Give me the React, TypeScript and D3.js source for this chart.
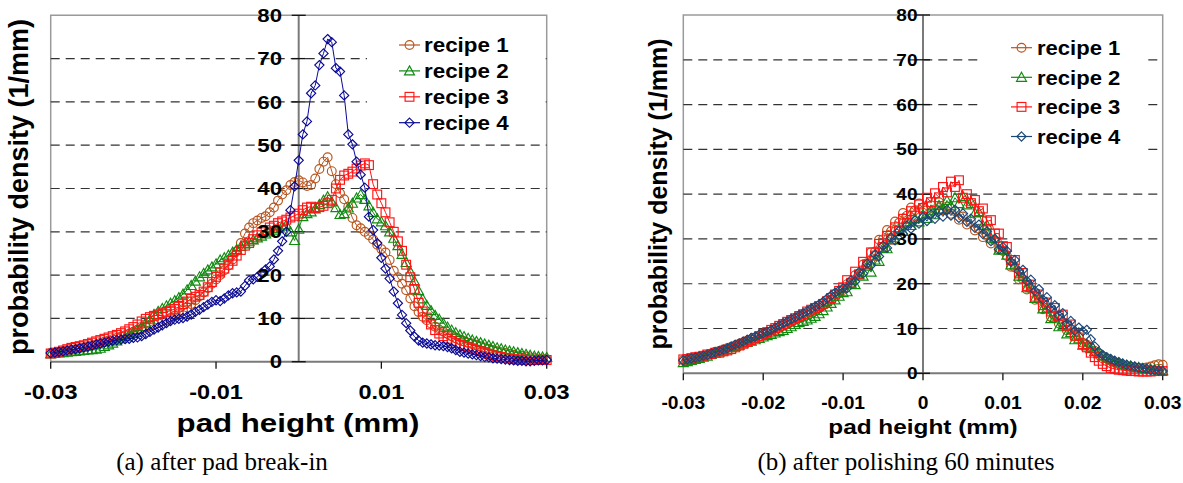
import React from "react";
import * as d3 from "d3";

// ---------------- data ----------------
const seriesNames = ["recipe 1", "recipe 2", "recipe 3", "recipe 4"];
const xDomain = [-0.03, 0.03];
const yDomain = [0, 80];
const yTickValues = [0, 10, 20, 30, 40, 50, 60, 70, 80];
const yTickLabels = ["0", "10", "20", "30", "40", "50", "60", "70", "80"];
const xTickValuesA = [-0.03, -0.01, 0.01, 0.03];
const xTickLabelsA = ["-0.03", "-0.01", "0.01", "0.03"];
const xTickValuesB = [-0.03, -0.02, -0.01, 0, 0.01, 0.02, 0.03];
const xTickLabelsB = ["-0.03", "-0.02", "-0.01", "0", "0.01", "0.02", "0.03"];
const axisTitleX = "pad height (mm)";
const axisTitleY = "probability density (1/mm)";
const captionA = "(a) after pad break-in";
const captionB = "(b) after polishing 60 minutes";

// (a) after pad break-in: samples every 0.0005 mm from -0.03 to 0.03
const recipe1A = [
  2.0, 2.1, 2.2, 2.4, 2.5, 2.7, 2.9, 3.1, 3.3, 3.5, 3.8, 4.0, 4.3, 4.6, 4.9, 5.2, 5.5, 5.8, 6.1, 6.5, 6.9,
  7.3, 7.6, 8.0, 8.3, 8.6, 8.9, 9.3, 9.6, 10.1, 10.6, 11.2, 11.8, 12.5, 13.3, 14.2, 15.1, 16.0, 17.0, 18.0, 19.0,
  20.0, 21.1, 22.2, 23.6, 25.5, 27.4, 29.6, 31.0, 32.0, 32.6, 33.2, 33.6, 34.5, 35.6, 37.2, 38.6, 39.6, 40.8, 41.5, 41.9,
  41.4, 40.6, 40.8, 42.3, 44.5, 46.2, 47.2, 44.0, 41.0, 38.9, 37.5, 35.8, 33.2, 31.5, 30.8, 30.0, 29.2, 28.2, 27.0, 26.0,
  25.2, 23.5, 21.0, 19.5, 18.0, 16.5, 14.6, 12.8, 11.5, 10.4, 9.6, 8.8, 8.1, 7.4, 6.9, 6.4, 5.9, 5.4, 5.0, 4.7,
  4.4, 4.2, 3.9, 3.6, 3.3, 3.0, 2.7, 2.4, 2.2, 2.0, 1.8, 1.6, 1.4, 1.3, 1.2, 1.0, 0.8, 0.7, 0.6, 0.5,
];
const recipe2A = [
  1.8, 1.9, 2.0, 2.1, 2.2, 2.3, 2.4, 2.5, 2.6, 2.7, 2.8, 2.9, 3.1, 3.5, 3.9, 4.3, 4.8, 5.3, 5.8, 6.3, 6.8,
  7.4, 8.1, 8.9, 9.8, 10.9, 11.6, 12.3, 12.9, 13.5, 14.1, 14.8, 15.6, 16.6, 17.6, 18.6, 19.6, 20.4, 21.2, 21.9, 22.6,
  23.5, 24.0, 24.6, 25.3, 25.9, 26.6, 27.2, 27.7, 28.1, 28.6, 29.0, 29.5, 30.0, 30.4, 30.8, 31.3, 31.6, 30.0, 28.0, 30.6,
  33.5, 34.2, 34.6, 35.3, 36.3, 37.3, 38.1, 36.9, 35.6, 34.0, 34.2, 35.5, 36.6, 37.8, 38.6, 37.5, 36.0, 34.5, 33.0, 32.3,
  31.4, 30.0, 28.5, 26.8, 24.8, 22.9, 20.8, 18.6, 16.4, 14.5, 13.0, 11.8, 10.7, 9.8, 8.9, 8.0, 7.3, 6.7, 6.2, 5.8,
  5.4, 5.0, 4.7, 4.4, 4.1, 3.8, 3.5, 3.2, 3.0, 2.7, 2.5, 2.3, 2.1, 1.9, 1.7, 1.5, 1.3, 1.2, 1.1, 1.0,
];
const recipe3A = [
  1.9, 2.1, 2.3, 2.6, 2.9, 3.2, 3.4, 3.6, 3.8, 4.1, 4.4, 4.7, 5.0, 5.3, 5.6, 5.9, 6.2, 6.6, 7.0, 7.5, 8.0,
  8.6, 9.3, 9.9, 10.3, 10.6, 10.9, 11.2, 11.5, 11.8, 12.2, 12.7, 13.3, 13.9, 14.5, 15.0, 15.4, 16.2, 17.2, 18.4, 19.6,
  20.6, 21.5, 22.4, 23.3, 24.5, 25.8, 26.8, 27.4, 28.3, 29.2, 29.9, 30.4, 31.0, 31.4, 32.0, 32.4, 32.8, 33.3, 33.7, 34.2,
  35.0, 35.6, 35.8, 35.5, 35.7, 36.0, 36.6, 37.4, 40.0, 42.0, 43.0, 43.4, 43.9, 44.6, 45.3, 45.8, 45.4, 41.0, 38.6, 36.6,
  34.5, 32.2, 30.0, 27.8, 25.6, 22.4, 19.5, 16.8, 13.6, 11.6, 10.2, 8.6, 7.3, 6.5, 5.9, 5.3, 4.8, 4.3, 3.9, 3.6,
  3.3, 3.0, 2.7, 2.4, 2.1, 1.8, 1.5, 1.3, 1.1, 0.9, 0.8, 0.6, 0.5, 0.5, 0.4, 0.4, 0.4, 0.4, 0.4, 0.4,
];
const recipe4A = [
  2.0, 2.1, 2.3, 2.4, 2.6, 2.8, 2.9, 3.1, 3.3, 3.5, 3.7, 4.0, 4.2, 4.4, 4.6, 4.8, 5.0, 5.1, 5.2, 5.3, 5.5,
  5.6, 5.9, 6.4, 6.9, 7.4, 7.9, 8.4, 8.9, 9.4, 9.7, 9.9, 10.1, 10.4, 10.9, 11.5, 12.0, 12.6, 13.2, 13.8, 14.2,
  14.0, 14.6, 15.3, 15.8, 16.0, 16.2, 17.5, 18.8, 19.0, 19.6, 20.5, 21.3, 22.0, 23.6, 25.6, 27.8, 30.0, 35.0, 40.5, 46.5,
  52.5, 55.5, 62.0, 63.8, 68.5, 71.2, 74.5, 73.8, 67.8, 67.0, 61.5, 52.5, 50.2, 46.2, 43.2, 40.2, 33.5, 30.4, 27.4, 24.0,
  21.5, 19.2, 16.2, 13.5, 10.8, 8.9, 7.2, 5.8, 4.9, 4.4, 4.2, 4.0, 3.8, 3.7, 3.6, 3.4, 3.1, 2.7, 2.3, 2.1,
  1.9, 1.7, 1.5, 1.3, 1.1, 1.0, 0.8, 0.7, 0.6, 0.5, 0.4, 0.3, 0.2, 0.2, 0.1, 0.1, 0.2, 0.3, 0.3, 0.4,
];

// (b) after polishing 60 minutes
const recipe1B = [
  2.9, 3.0, 3.3, 3.4, 3.6, 3.9, 4.1, 4.4, 4.8, 5.0, 5.3, 5.6, 5.9, 6.2, 6.6, 6.9, 7.3, 7.6, 7.9, 8.3, 8.6,
  8.9, 9.3, 9.6, 10.1, 10.6, 11.0, 11.5, 12.1, 12.4, 12.8, 13.2, 13.7, 14.2, 14.6, 15.2, 15.8, 16.4, 17.1, 17.8, 18.6,
  19.9, 20.1, 21.9, 22.2, 24.3, 24.6, 27.0, 27.2, 29.8, 29.9, 32.0, 31.7, 33.9, 33.6, 35.8, 35.2, 37.0, 36.4, 37.9, 37.0,
  36.4, 37.5, 36.6, 38.2, 36.4, 37.2, 35.6, 36.2, 34.3, 35.0, 33.2, 33.8, 31.9, 32.3, 30.4, 31.0, 29.0, 29.6, 27.6, 27.3,
  26.2, 23.8, 23.6, 21.0, 21.0, 18.7, 18.9, 16.4, 16.4, 14.3, 14.6, 12.6, 12.9, 11.1, 11.4, 9.6, 9.9, 8.2, 8.2, 6.8,
  6.4, 5.7, 5.0, 4.4, 3.8, 3.3, 2.8, 2.4, 2.1, 1.8, 1.6, 1.4, 1.3, 1.2, 1.2, 1.3, 1.5, 1.8, 2.0, 1.9,
];
const recipe2B = [
  2.4, 2.6, 2.9, 3.1, 3.3, 3.6, 3.8, 4.2, 4.5, 4.8, 5.0, 5.3, 5.7, 6.0, 6.3, 6.6, 6.9, 7.2, 7.5, 7.8, 8.1,
  8.4, 8.7, 9.0, 9.3, 9.6, 10.0, 10.4, 10.9, 11.3, 11.6, 11.9, 12.3, 12.7, 13.3, 14.0, 14.8, 15.6, 16.4, 17.2, 18.0,
  18.2, 20.1, 19.8, 22.0, 21.7, 23.9, 22.6, 25.3, 25.0, 27.9, 27.8, 30.3, 29.8, 32.2, 31.7, 33.8, 33.0, 34.6, 33.8, 35.4,
  34.6, 36.4, 35.4, 37.5, 36.6, 38.6, 37.4, 39.2, 37.9, 39.5, 37.6, 38.3, 35.8, 35.9, 33.0, 33.1, 30.2, 30.1, 27.5, 27.6,
  26.4, 24.2, 24.2, 21.7, 21.6, 19.1, 19.1, 16.7, 16.8, 14.4, 14.5, 12.2, 12.4, 10.4, 10.6, 8.8, 9.1, 7.5, 7.7, 6.3,
  6.1, 5.5, 4.9, 4.4, 3.9, 3.4, 3.0, 2.6, 2.3, 2.0, 1.8, 1.6, 1.4, 1.3, 1.1, 1.0, 0.9, 0.8, 0.7, 0.6,
];
const recipe3B = [
  3.1, 3.2, 3.4, 3.6, 3.7, 3.9, 4.2, 4.3, 4.6, 4.6, 4.9, 5.1, 5.4, 5.8, 6.2, 6.6, 7.0, 7.4, 7.9, 8.3, 8.8,
  9.2, 9.7, 10.1, 10.6, 11.0, 11.5, 11.9, 12.3, 12.8, 13.2, 13.8, 14.2, 14.6, 15.0, 15.5, 16.1, 16.8, 17.6, 18.4, 19.2,
  20.8, 20.2, 22.7, 22.1, 24.9, 24.3, 27.0, 26.3, 28.9, 28.2, 30.7, 29.9, 32.6, 31.8, 34.5, 33.6, 36.2, 35.2, 37.7, 36.9,
  39.2, 38.2, 40.2, 39.3, 41.6, 40.4, 42.8, 41.6, 43.1, 39.2, 40.0, 38.0, 38.7, 36.2, 36.8, 33.9, 34.2, 31.2, 31.2, 28.4,
  28.2, 25.3, 25.3, 22.3, 22.4, 19.5, 19.8, 17.1, 17.6, 15.2, 15.8, 13.8, 14.6, 12.8, 13.1, 10.6, 10.9, 8.4, 8.6, 6.5,
  5.8, 4.6, 3.6, 2.8, 2.1, 1.6, 1.2, 1.0, 0.8, 0.7, 0.6, 0.5, 0.5, 0.4, 0.4, 0.4, 0.4, 0.5, 0.5, 0.5,
];
const recipe4B = [
  2.9, 3.1, 3.3, 3.5, 3.7, 3.9, 4.1, 4.4, 4.7, 5.0, 5.3, 5.6, 6.0, 6.4, 6.7, 7.1, 7.5, 7.9, 8.2, 8.6, 8.9,
  9.3, 9.7, 10.2, 10.7, 11.2, 11.6, 12.1, 12.5, 13.0, 13.4, 13.9, 14.4, 14.9, 15.4, 16.0, 16.7, 17.4, 18.0, 18.5, 19.0,
  19.0, 20.8, 20.5, 22.6, 22.3, 24.5, 24.1, 26.5, 26.1, 28.5, 28.0, 30.3, 29.7, 31.8, 31.1, 33.0, 32.3, 34.1, 33.4, 34.9,
  34.0, 35.5, 34.5, 36.2, 35.0, 36.5, 35.2, 36.5, 34.7, 35.7, 33.8, 34.5, 32.5, 33.2, 31.1, 31.7, 29.5, 30.0, 27.7, 28.2,
  27.3, 24.9, 25.3, 22.8, 23.1, 20.6, 20.9, 18.4, 18.8, 16.5, 17.0, 14.7, 15.2, 12.9, 13.4, 11.1, 11.7, 9.5, 10.2, 9.4,
  9.7, 7.6, 6.0, 4.8, 4.1, 3.6, 3.2, 2.8, 2.5, 2.2, 1.9, 1.7, 1.5, 1.3, 1.1, 1.0, 0.8, 0.7, 0.6, 0.5,
];

// ---------------- styles ----------------
const SANS = "'Liberation Sans', Arial, Helvetica, sans-serif";
const SERIF = "'Liberation Serif', 'Times New Roman', Times, serif";
const COLORS_A = ["#b8541e", "#0f8a0f", "#ff1515", "#0a0a96"];
const COLORS_B = ["#b8541e", "#0f8a0f", "#ff1515", "#1b4777"];

type MarkerProps = { kind: number; x: number; y: number; color: string };
function Marker({ kind, x, y, color }: MarkerProps) {
  const common = { fill: "none", stroke: color, strokeWidth: 1.15 };
  if (kind === 0) return <circle cx={x} cy={y} r={4.4} {...common} />;
  if (kind === 1)
    return <path d={`M${x},${y - 5}L${x + 5},${y + 4}L${x - 5},${y + 4}Z`} {...common} />;
  if (kind === 2) return <rect x={x - 4.4} y={y - 4.4} width={8.8} height={8.8} {...common} />;
  return <path d={`M${x},${y - 4.6}L${x + 4.6},${y}L${x},${y + 4.6}L${x - 4.6},${y}Z`} {...common} />;
}

type STxtProps = {
  x: number;
  y: number;
  sx?: number;
  size: number;
  anchor?: string;
  weight?: string;
  family?: string;
  children: React.ReactNode;
};
function STxt({ x, y, sx = 1, size, anchor = "start", weight = "bold", family = SANS, children }: STxtProps) {
  return (
    <text
      transform={`translate(${x},${y}) scale(${sx},1)`}
      fontSize={size}
      fontWeight={weight}
      fontFamily={family}
      textAnchor={anchor as any}
      fill="#000"
    >
      {children}
    </text>
  );
}

type ChartCfg = {
  series: number[][];
  colors: string[];
  xTicks: number[];
  xTickLabels: string[];
  left: number;
  right: number;
  top: number;
  bottom: number;
  yLab: { x: number; size: number; sx: number; dy: number };
  xLab: { y: number; size: number; sx: number };
  xTitle: { x: number; y: number; size: number; sx: number };
  yTitle: { x: number; y: number; size: number };
  legend: {
    rect: [number, number, number, number];
    y0: number;
    dy: number;
    l1: number;
    l2: number;
    tx: number;
    size: number;
    sx: number;
  };
  caption: { x: number; y: number; text: string };
};

function Chart({ cfg }: { cfg: ChartCfg }) {
  const x = d3.scaleLinear().domain(xDomain).range([cfg.left, cfg.right]);
  const y = d3.scaleLinear().domain(yDomain).range([cfg.bottom, cfg.top]);
  const x0 = x(0);
  const line = d3
    .line<[number, number]>()
    .x((d) => x(d[0]))
    .y((d) => y(d[1]));
  const pts = (vals: number[]): [number, number][] =>
    vals.map((v, i) => [xDomain[0] + (i * (xDomain[1] - xDomain[0])) / (vals.length - 1), v]);
  const lg = cfg.legend;
  return (
    <g>
      <path
        d={`M${cfg.left},${cfg.bottom}V${cfg.top}H${cfg.right}V${cfg.bottom}`}
        fill="none"
        stroke="#9a9a9a"
        strokeWidth={1.5}
      />
      {yTickValues
        .filter((t) => t > 0 && t < 80)
        .map((t) => (
          <line
            key={t}
            x1={cfg.left}
            x2={cfg.right}
            y1={y(t)}
            y2={y(t)}
            stroke="#333"
            strokeWidth={1.2}
            strokeDasharray="9,6"
          />
        ))}
      <rect x={lg.rect[0]} y={lg.rect[1]} width={lg.rect[2]} height={lg.rect[3]} fill="#fff" />
      <line x1={cfg.left} x2={cfg.right} y1={y(0)} y2={y(0)} stroke="#7a7a7a" strokeWidth={2} />
      <line x1={x0} x2={x0} y1={y(80)} y2={y(0)} stroke="#7a7a7a" strokeWidth={2} />
      {yTickValues.map((t) => (
        <line key={"yt" + t} x1={x0 - 7} x2={x0 + 7} y1={y(t)} y2={y(t)} stroke="#111" strokeWidth={1.3} />
      ))}
      {cfg.xTicks.map((t) => (
        <line key={"xt" + t} x1={x(t)} x2={x(t)} y1={y(0)} y2={y(0) + 7} stroke="#111" strokeWidth={1.3} />
      ))}
      {cfg.series.map((vals, si) => {
        const p = pts(vals);
        return (
          <g key={"s" + si}>
            <path d={line(p) || ""} fill="none" stroke={cfg.colors[si]} strokeWidth={1} />
            {p.map((d, i) => (
              <Marker key={i} kind={si} x={x(d[0])} y={y(d[1])} color={cfg.colors[si]} />
            ))}
          </g>
        );
      })}
      {seriesNames.map((name, i) => {
        const cy = lg.y0 + i * lg.dy;
        return (
          <g key={name}>
            <line x1={lg.l1} x2={lg.l2} y1={cy} y2={cy} stroke={cfg.colors[i]} strokeWidth={1.2} />
            <Marker kind={i} x={(lg.l1 + lg.l2) / 2} y={cy} color={cfg.colors[i]} />
            <STxt x={lg.tx} y={cy + lg.size * 0.36} size={lg.size} sx={lg.sx}>
              {name}
            </STxt>
          </g>
        );
      })}
      {yTickValues.map((t, i) => (
        <STxt key={"yl" + t} x={cfg.yLab.x} y={y(t) + cfg.yLab.dy} size={cfg.yLab.size} sx={cfg.yLab.sx} anchor="end">
          {yTickLabels[i]}
        </STxt>
      ))}
      {cfg.xTicks.map((t, i) => (
        <STxt key={"xl" + t} x={x(t)} y={cfg.xLab.y} size={cfg.xLab.size} sx={cfg.xLab.sx} anchor="middle">
          {cfg.xTickLabels[i]}
        </STxt>
      ))}
      <STxt x={cfg.xTitle.x} y={cfg.xTitle.y} size={cfg.xTitle.size} sx={cfg.xTitle.sx} anchor="middle">
        {axisTitleX}
      </STxt>
      <text
        transform={`translate(${cfg.yTitle.x},${cfg.yTitle.y}) rotate(-90)`}
        fontSize={cfg.yTitle.size}
        fontWeight="bold"
        fontFamily={SANS}
        textAnchor="middle"
      >
        {axisTitleY}
      </text>
      <text x={cfg.caption.x} y={cfg.caption.y} fontSize={25} fontFamily={SERIF} textAnchor="middle">
        {cfg.caption.text}
      </text>
    </g>
  );
}

const cfgA: ChartCfg = {
  series: [recipe1A, recipe2A, recipe3A, recipe4A],
  colors: COLORS_A,
  xTicks: xTickValuesA,
  xTickLabels: xTickLabelsA,
  left: 50.7,
  right: 546.7,
  top: 15.3,
  bottom: 361.7,
  yLab: { x: 282, size: 18.5, sx: 1.2, dy: 6.6 },
  xLab: { y: 399, size: 21, sx: 1.12 },
  xTitle: { x: 298, y: 431.5, size: 25, sx: 1.25 },
  yTitle: { x: 27.5, y: 187, size: 27 },
  legend: { rect: [367, 28, 175, 109], y0: 45, dy: 25.9, l1: 399, l2: 420, tx: 424, size: 20, sx: 1.12 },
  caption: { x: 222, y: 470, text: captionA },
};

const cfgB: ChartCfg = {
  series: [recipe1B, recipe2B, recipe3B, recipe4B],
  colors: COLORS_B,
  xTicks: xTickValuesB,
  xTickLabels: xTickLabelsB,
  left: 683.3,
  right: 1162.7,
  top: 15,
  bottom: 373.3,
  yLab: { x: 917.5, size: 17, sx: 1.12, dy: 6.1 },
  xLab: { y: 409, size: 17.5, sx: 1.1 },
  xTitle: { x: 923, y: 434, size: 21, sx: 1.16 },
  yTitle: { x: 666.6, y: 194, size: 25 },
  legend: { rect: [982, 24, 165, 140], y0: 47.7, dy: 29.6, l1: 1011, l2: 1032, tx: 1037, size: 21, sx: 1.05 },
  caption: { x: 906, y: 470, text: captionB },
};

export default function App() {
  return (
    <svg
      width={1183}
      height={483}
      viewBox="0 0 1183 483"
      style={{ position: "absolute", left: 0, top: 0, background: "#fff" }}
    >
      <rect x={0} y={0} width={1183} height={483} fill="#fff" />
      <Chart cfg={cfgA} />
      <Chart cfg={cfgB} />
    </svg>
  );
}
